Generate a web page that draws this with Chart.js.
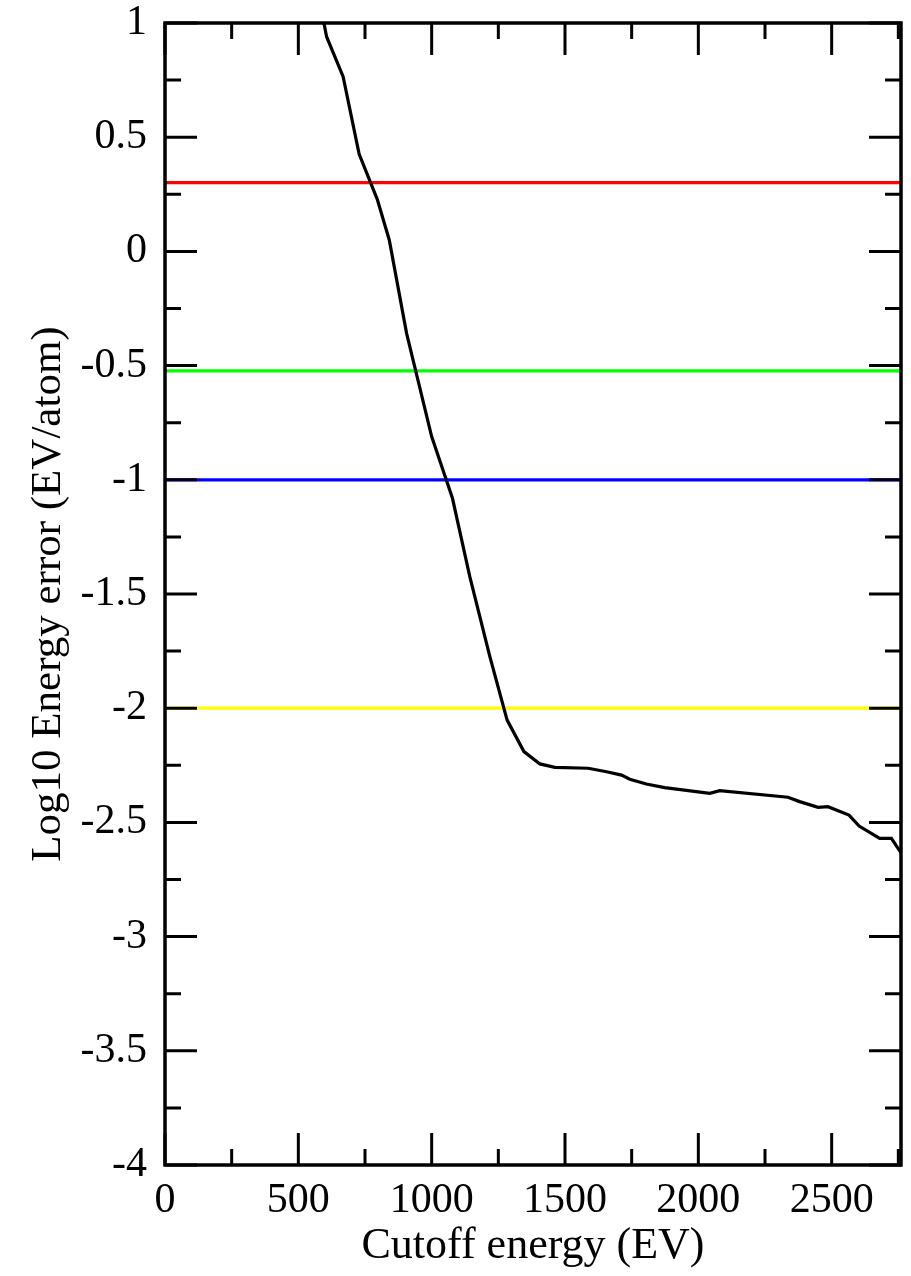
<!DOCTYPE html>
<html>
<head>
<meta charset="utf-8">
<script src="https://cdn.jsdelivr.net/npm/chart.js@4/dist/chart.umd.min.js"></script>
<style>
  body { margin: 0; background: #fff; }
  #wrap { width: 911px; height: 1276px; }
</style>
</head>
<body>
<div id="wrap"><canvas id="convChart" width="911" height="1276"></canvas></div>
<script>
// cutoff energy (eV) and log10 of energy error (eV/atom)
const cutoff = [596, 606, 668, 728, 796, 841, 906, 1000, 1078, 1143, 1218, 1283, 1346, 1406, 1462, 1587,
  1656, 1712, 1743, 1805, 1874, 2043, 2080, 2336, 2380, 2449, 2486, 2565, 2603, 2680, 2724, 2761];
const logError = [1.0, 0.94, 0.765, 0.426, 0.228, 0.05, -0.359, -0.811, -1.081, -1.424, -1.773, -2.052,
  -2.19, -2.244, -2.259, -2.263, -2.278, -2.293, -2.311, -2.332, -2.348, -2.373, -2.361, -2.39, -2.409,
  -2.434, -2.431, -2.468, -2.516, -2.57, -2.57, -2.635];

// reference levels
const levelValues = [0.301, -0.523, -1, -2];
const levelColors = ["#ff0000", "#00ff00", "#0000ff", "#ffff00"];

// axes
const xMin = 0, xMax = 2760;
const yMin = -4, yMax = 1;
const xTicks = [0, 500, 1000, 1500, 2000, 2500];
const xMinorTicks = [250, 750, 1250, 1750, 2250, 2750];
const yTicks = [1, 0.5, 0, -0.5, -1, -1.5, -2, -2.5, -3, -3.5, -4];
const yMinorTicks = [0.75, 0.25, -0.25, -0.75, -1.25, -1.75, -2.25, -2.75, -3.25, -3.75];

const serif = "'Liberation Serif', 'DejaVu Serif', serif";

const curve = cutoff.map((e, i) => ({ x: e, y: logError[i] }));

const levelSets = levelValues.map((v, i) => ({
  data: [{ x: xMin, y: v }, { x: xMax, y: v }],
  borderColor: levelColors[i],
  borderWidth: 3.2,
  pointRadius: 0,
  order: 2
}));

// frame + inward ticks on every side (drawn over the level lines)
const frameTicks = {
  id: "frameTicks",
  afterDatasetsDraw(chart) {
    const ctx = chart.ctx;
    const a = chart.chartArea;
    const xs = chart.scales.x, ys = chart.scales.y;
    ctx.save();
    ctx.strokeStyle = "#000";
    ctx.lineCap = "butt";
    ctx.lineWidth = 3;
    ctx.beginPath();
    const tickX = (v, len) => {
      const px = xs.getPixelForValue(v);
      if (px < a.left || px > a.right) return;
      ctx.moveTo(px, a.bottom); ctx.lineTo(px, a.bottom - len);
      ctx.moveTo(px, a.top); ctx.lineTo(px, a.top + len);
    };
    const tickY = (v, len) => {
      const py = ys.getPixelForValue(v);
      ctx.moveTo(a.left, py); ctx.lineTo(a.left + len, py);
      ctx.moveTo(a.right, py); ctx.lineTo(a.right - len, py);
    };
    xTicks.forEach(v => tickX(v, 32));
    xMinorTicks.forEach(v => tickX(v, 16));
    yTicks.forEach(v => tickY(v, 32));
    yMinorTicks.forEach(v => tickY(v, 16));
    ctx.stroke();
    ctx.lineWidth = 3.5;
    ctx.strokeRect(a.left, a.top, a.right - a.left, a.bottom - a.top);
    ctx.restore();
  }
};

new Chart(document.getElementById("convChart"), {
  type: "line",
  data: {
    datasets: [
      {
        data: curve,
        borderColor: "#000",
        borderWidth: 3.2,
        pointRadius: 0,
        tension: 0,
        order: 1
      },
      ...levelSets
    ]
  },
  options: {
    responsive: false,
    animation: false,
    layout: { padding: { top: 23, right: 10, left: 0, bottom: 0 } },
    plugins: { legend: { display: false }, tooltip: { enabled: false } },
    scales: {
      x: {
        type: "linear",
        min: xMin,
        max: xMax,
        grid: { display: false, drawTicks: false },
        border: { display: false },
        afterBuildTicks: s => { s.ticks = xTicks.map(v => ({ value: v })); },
        afterFit: s => { s.height = 111; s.paddingLeft = 0; s.paddingRight = 0; },
        ticks: {
          color: "#000",
          padding: 11,
          maxRotation: 0,
          font: { family: serif, size: 42 },
          callback: v => String(v)
        },
        title: {
          display: true,
          text: "Cutoff energy (EV)",
          color: "#000",
          font: { family: serif, size: 44 },
          padding: { top: 0, bottom: 3 }
        }
      },
      y: {
        type: "linear",
        min: yMin,
        max: yMax,
        grid: { display: false, drawTicks: false },
        border: { display: false },
        afterBuildTicks: s => { s.ticks = yTicks.map(v => ({ value: v })); },
        afterFit: s => { s.width = 165; s.paddingTop = 0; s.paddingBottom = 0; },
        ticks: {
          color: "#000",
          padding: 18,
          font: { family: serif, size: 42 },
          callback: v => String(v)
        },
        title: {
          display: true,
          text: "Log10 Energy error (EV/atom)",
          color: "#000",
          font: { family: serif, size: 43 },
          padding: { top: 23, bottom: 0 }
        }
      }
    }
  },
  plugins: [frameTicks]
});
</script>
</body>
</html>
